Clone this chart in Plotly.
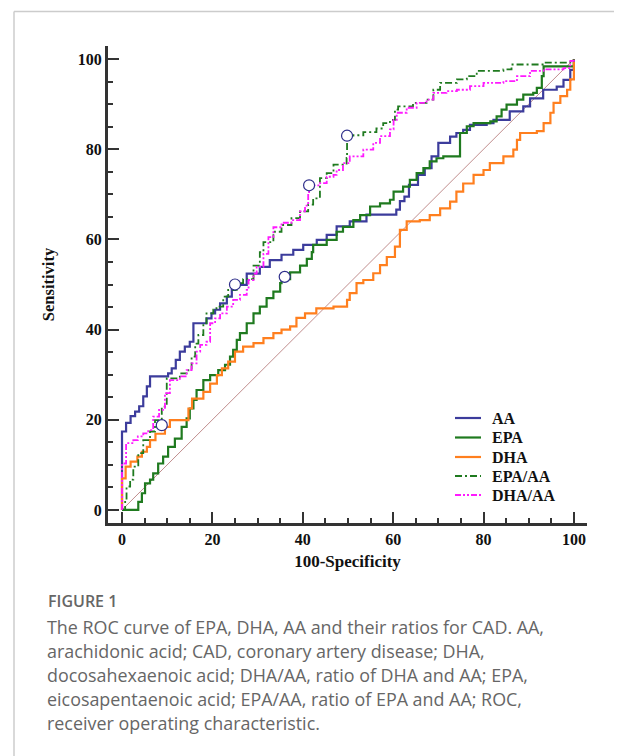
import plotly.graph_objects as go

# ---------------- data ----------------
aa_x = [0, 0, 0.9, 1.9, 2.9, 3.8, 4.7, 5.5, 6.2, 10.2, 11.0, 11.9, 12.8, 13.9, 15.0, 15.8, 18.7, 19.8, 20.6,
        21.7, 23.2, 24.3, 25.0, 27.6, 30.5, 32.7, 35.3, 37.9, 40.1, 43.1, 45.3, 47.5, 50.4, 54.1, 60.7, 61.5,
        62.5, 63.5, 65.5, 67.0, 68.5, 70.0, 72.6, 74.0, 75.5, 77.0, 80.7, 82.2, 85.8, 88.8, 90.3, 93.2, 96.2,
        97.7, 99.2, 100, 100]
aa_y = [0, 17.4, 19.3, 20.8, 21.8, 23.0, 25.2, 27.4, 29.6, 30.3, 31.4, 33.3, 35.1, 36.2, 37.3, 41.4, 42.5, 43.6,
        44.4, 45.8, 47.3, 48.8, 49.9, 52.4, 53.9, 55.4, 56.6, 57.7, 58.8, 59.9, 61.0, 62.9, 64.0, 65.5, 66.6,
        68.5, 69.5, 72.1, 74.3, 75.8, 78.4, 81.4, 82.8, 83.6, 84.3, 85.4, 85.8, 86.5, 88.4, 89.5, 91.3, 93.2,
        93.9, 95.4, 97.6, 97.6, 100]

epa_x = [0, 3.2, 3.6, 4.4, 5.1, 6.2, 6.9, 8.0, 9.1, 10.2, 11.7, 13.2, 14.3, 15.0, 15.8, 16.5, 18.0, 19.5, 21.3,
         22.8, 23.9, 24.6, 25.4, 26.1, 27.6, 29.1, 30.5, 32.0, 33.5, 35.0, 35.3, 37.2, 39.4, 40.9, 42.0, 42.3,
         45.3, 47.5, 48.9, 51.2, 52.7, 54.9, 57.1, 59.3, 60.1, 62.2, 63.7, 65.2, 66.7, 68.1, 69.6, 71.1, 74.8,
         76.3, 77.8, 81.5, 82.9, 84.0, 85.1, 87.4, 88.8, 91.0, 91.8, 92.9, 93.3, 100, 100]
epa_y = [0, 0, 1.8, 3.7, 5.9, 6.7, 8.1, 10.3, 11.8, 14.0, 15.8, 18.4, 20.3, 22.5, 24.4, 26.6, 28.8, 29.9, 31.0,
         32.2, 34.0, 35.5, 37.7, 39.2, 41.4, 43.6, 45.1, 47.0, 48.4, 50.3, 51.2, 52.7, 54.2, 55.7, 57.2, 58.8,
         59.9, 61.7, 62.8, 64.3, 65.4, 67.3, 68.0, 68.8, 70.6, 71.7, 73.2, 74.7, 75.8, 77.3, 78.0, 78.4, 83.6,
         85.1, 85.8, 86.2, 87.3, 88.8, 89.9, 91.0, 92.1, 92.5, 93.6, 96.2, 98.4, 98.4, 100]

dha_x = [0, 0, 0.8, 1.9, 3.4, 4.4, 5.5, 6.2, 7.4, 9.5, 10.6, 13.9, 14.7, 15.5, 17.3, 18.0, 19.5, 21.0, 22.1,
         23.5, 25.0, 26.8, 29.1, 31.3, 33.5, 35.3, 37.2, 38.6, 40.5, 43.0, 46.8, 49.8, 50.4, 51.9, 53.4, 55.6,
         57.1, 58.6, 60.4, 61.5, 63.0, 65.9, 68.1, 70.4, 72.6, 74.0, 75.5, 77.8, 80.0, 81.4, 84.4, 86.6, 87.4,
         88.1, 91.8, 93.3, 94.8, 95.5, 97.0, 98.5, 99.2, 100]
dha_y = [0, 7.0, 9.6, 10.7, 11.8, 12.9, 14.0, 15.5, 16.9, 18.4, 19.9, 19.9, 22.5, 24.7, 24.7, 26.2, 28.0, 29.9, 31.4,
         32.9, 35.1, 36.2, 37.0, 38.1, 39.2, 40.0, 40.7, 42.6, 43.6, 44.7, 45.1, 46.6, 48.1, 50.3, 51.0, 52.5,
         54.3, 56.1, 58.4, 62.1, 64.0, 64.3, 65.4, 66.9, 68.4, 70.6, 72.4, 74.3, 75.4, 76.9, 78.4, 79.9, 82.1,
         83.6, 84.0, 85.8, 88.1, 90.3, 91.8, 93.2, 95.5, 100]

epa_aa_x = [0, 0.7, 1.0, 1.8, 2.5, 3.6, 4.7, 6.2, 7.3, 8.8, 9.9, 12.8, 14.7, 15.4, 16.2, 16.9, 18.0, 18.7, 20.2,
            20.9, 22.4, 23.5, 25.4, 26.8, 29.1, 30.5, 31.3, 33.5, 35.3, 37.5, 39.4, 41.2, 42.3, 43.8, 45.3, 46.8,
            49.7, 49.8, 51.2, 53.4, 56.3, 57.8, 59.3, 60.4, 61.1, 64.4, 67.4, 68.9, 70.4, 74.1, 76.3, 78.5, 84.4,
            86.2, 93.3, 99.2, 100]
epa_aa_y = [0, 2.2, 5.2, 6.7, 9.6, 12.6, 15.5, 17.4, 19.9, 22.9, 29.2, 30.3, 31.0, 34.0, 36.9, 38.8, 41.4, 43.6, 44.4,
            45.1, 47.3, 48.8, 50.3, 51.2, 54.2, 57.2, 59.4, 61.7, 63.2, 64.7, 66.2, 67.7, 69.1, 73.6, 74.7, 76.6,
            78.1, 83.0, 83.1, 83.8, 84.6, 85.8, 86.5, 88.8, 89.5, 90.3, 91.0, 93.2, 94.7, 95.5, 96.2, 97.4, 97.7,
            98.8, 99.2, 99.6, 100]

dha_aa_x = [0, 0, 0.9, 2.5, 3.5, 4.7, 5.8, 6.9, 8.2, 9.5, 10.6, 12.8, 14.3, 15.4, 16.5, 17.3, 18.7, 19.5, 20.6,
            21.7, 23.2, 24.6, 26.1, 27.6, 28.0, 29.1, 29.8, 31.3, 32.4, 33.5, 35.3, 37.5, 39.4, 40.5, 41.2, 41.4,
            43.8, 45.3, 46.8, 47.5, 48.9, 50.4, 53.4, 55.6, 57.1, 59.3, 60.1, 60.8, 63.0, 65.2, 67.4, 68.9, 71.8,
            74.1, 77.0, 80.0, 84.4, 87.4, 90.3, 93.3, 97.7, 99.2, 100]
dha_aa_y = [0, 10.3, 14.8, 15.5, 16.3, 17.0, 17.7, 20.7, 22.2, 25.9, 28.8, 29.6, 31.0, 32.5, 35.1, 36.6, 37.3, 41.4, 42.5,
            43.6, 45.1, 46.6, 47.7, 48.8, 51.0, 52.4, 53.9, 56.8, 60.5, 62.7, 63.7, 64.3, 66.2, 67.5, 70.2, 72.0,
            72.5, 73.9, 74.3, 75.4, 76.9, 78.4, 79.9, 81.4, 82.9, 84.4, 86.5, 88.1, 89.2, 90.3, 91.0, 92.5, 92.9,
            93.2, 94.0, 94.7, 95.1, 96.2, 97.4, 97.7, 98.0, 99.6, 100]

# optimal cut-off points (circles)
cut_x = [25.0, 36.0, 8.8, 49.8, 41.4]
cut_y = [50.0, 51.7, 18.8, 83.0, 72.0]

ref_x = [0, 100]
ref_y = [0, 100]

series_names = ["AA", "EPA", "DHA", "EPA/AA", "DHA/AA"]
tick_vals = [0, 20, 40, 60, 80, 100]

caption_title = "FIGURE 1"
caption_lines = [
    "The ROC curve of EPA, DHA, AA and their ratios for CAD. AA,",
    "arachidonic acid; CAD, coronary artery disease; DHA,",
    "docosahexaenoic acid; DHA/AA, ratio of DHA and AA; EPA,",
    "eicosapentaenoic acid; EPA/AA, ratio of EPA and AA; ROC,",
    "receiver operating characteristic.",
]

# ---------------- layout geometry ----------------
OFF = 8                      # page body margin
W, H = 622 - OFF, 756 - OFF
L, T = 108 - OFF, 46 - OFF   # plot area left / top (screen px)
RIGHT, BOTTOM = 587 - OFF, 523 - OFF
R, B = W - RIGHT, H - BOTTOM
PW = RIGHT - L
PH = BOTTOM - T


def pxx(px):
    """screen x pixel -> paper x"""
    return (px - OFF - L) / PW


def pxy(py):
    """screen y pixel -> paper y"""
    return (BOTTOM - (py - OFF)) / PH


SERIF = "Liberation Serif, Times New Roman, serif"
SANS = "Open Sans, Noto Sans, sans-serif"

fig = go.Figure()

fig.add_trace(go.Scatter(x=ref_x, y=ref_y, mode="lines", showlegend=False, hoverinfo="skip",
                         line=dict(color="#b07070", width=0.8)))

styles = [
    dict(color="#3c3c9c", width=2.2, dash="solid"),
    dict(color="#1f7a1f", width=2.2, dash="solid"),
    dict(color="#ff7f1e", width=2.2, dash="solid"),
    dict(color="#1f7a1f", width=1.8, dash="7px,3px,2px,3px"),
    dict(color="#ff1aff", width=1.8, dash="6px,2px,2px,2px,2px,2px"),
]
data_x = [aa_x, epa_x, dha_x, epa_aa_x, dha_aa_x]
data_y = [aa_y, epa_y, dha_y, epa_aa_y, dha_aa_y]
for name, xs, ys, st in zip(series_names, data_x, data_y, styles):
    fig.add_trace(go.Scatter(x=xs, y=ys, name=name, mode="lines", showlegend=False,
                             line=dict(shape="hv", **st)))

fig.add_trace(go.Scatter(x=cut_x, y=cut_y, mode="markers", showlegend=False,
                         marker=dict(symbol="circle", size=11, color="white",
                                     line=dict(color="#2e2e8a", width=1.2))))

axis_common = dict(
    showline=True, linecolor="#333333", linewidth=3,
    ticks="inside", ticklen=11, tickwidth=2, tickcolor="#333333",
    tickvals=tick_vals, showgrid=False, zeroline=False,
    minor=dict(ticks="inside", ticklen=5, tickwidth=1.5, tickcolor="#333333", dtick=5, showgrid=False),
    tickfont=dict(family=SERIF, size=16, color="#111111", weight="bold"),
    mirror=False,
)

fig.update_xaxes(range=[-3.1, 102.9], title=dict(text="100-Specificity", standoff=8,
                 font=dict(family=SERIF, size=17, color="#111111", weight="bold")), **axis_common)
fig.update_yaxes(range=[-2.9, 102.9], title=dict(text="Sensitivity", standoff=20,
                 font=dict(family=SERIF, size=16.5, color="#111111", weight="bold")), **axis_common)

annotations = [dict(text=caption_title, x=pxx(46), y=pxy(601), xref="paper", yref="paper",
                    xanchor="left", yanchor="middle", showarrow=False,
                    font=dict(family=SANS, size=16, color="#666666", weight=600))]
for i, line in enumerate(caption_lines):
    annotations.append(dict(text=line, x=pxx(45), y=pxy(627 + 24 * i), xref="paper", yref="paper",
                            xanchor="left", yanchor="middle", showarrow=False,
                            font=dict(family=SANS, size=17.9, color="#666666", weight=400)))

shapes = [
    dict(type="line", xref="paper", yref="paper", x0=pxx(14), x1=pxx(640), y0=pxy(11.5), y1=pxy(11.5),
         line=dict(color="#cccccc", width=1.5)),
    dict(type="line", xref="paper", yref="paper", x0=pxx(14), x1=pxx(14), y0=pxy(11.5), y1=pxy(780),
         line=dict(color="#cccccc", width=1.5)),
]

# manual legend (line samples + bold serif labels)
legend_rows = [418, 437.5, 457, 476, 495]
for name, st, ry in zip(series_names, styles, legend_rows):
    shapes.append(dict(type="line", xref="paper", yref="paper", x0=pxx(455), x1=pxx(481),
                       y0=pxy(ry), y1=pxy(ry), line=dict(color=st["color"], width=st["width"], dash=st["dash"])))
    annotations.append(dict(text=name, x=pxx(490), y=pxy(ry), xref="paper", yref="paper",
                            xanchor="left", yanchor="middle", showarrow=False,
                            font=dict(family=SERIF, size=16, color="#111111", weight="bold")))

fig.update_layout(
    width=W, height=H, margin=dict(l=L, r=R, t=T, b=B, autoexpand=False),
    paper_bgcolor="white", plot_bgcolor="white",
    showlegend=False,
    annotations=annotations, shapes=shapes,
)

fig.write_html("out.html")
